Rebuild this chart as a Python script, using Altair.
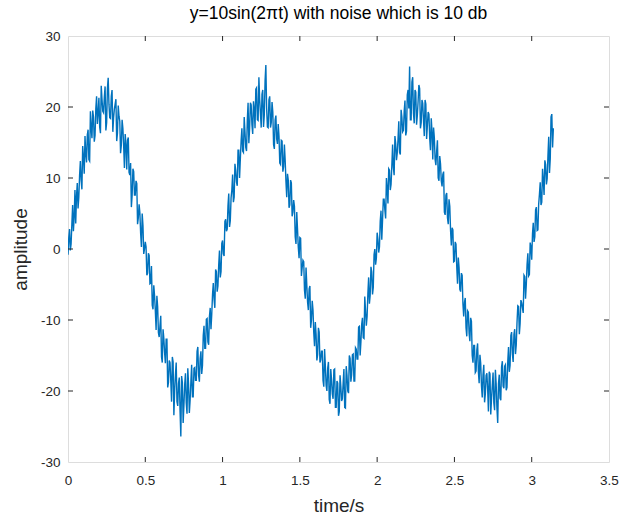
import altair as alt
import pandas as pd

# sampling step of the recorded signal (seconds)
t_step = 0.005

# samples at t = 0.00, 0.01, 0.02, ...
amp_a = [
    -0.8, 2.8, 0.7, 6.2, 4.5, 3.6, 9.3, 7.3, 12.4, 8.4,
    12.9, 15.9, 12.2, 16.8, 12.4, 17.1, 19.5, 15.1, 19.8, 17.6,
    21.3, 16.3, 21.1, 19.2, 22.9, 17.8, 24.1, 18.5, 21.5, 16.5,
    19.7, 21.1, 16.3, 18.7, 13.5, 18.2, 14.6, 16.2, 11.2, 15.7,
    10.4, 5.9, 11.3, 7.6, 9.6, 3.5, 6.3, 2.2, 5.0, -0.7,
    1.0, -3.7, -0.6, -4.9, -2.4, -8.5, -6.6, -11.4, -8.1, -12.4,
    -9.4, -16.0, -12.6, -16.1, -12.7, -18.8, -16.0, -21.5, -15.9, -20.0,
    -16.0, -22.1, -18.1, -26.4, -18.8, -22.0, -17.5, -23.2, -19.1, -21.3,
    -16.3, -20.8, -16.7, -18.5, -13.8, -18.7, -14.4, -16.4, -10.8, -14.0,
    -9.8, -13.5, -8.3, -9.2, -4.8, -8.3, -3.2, -5.2, -0.2, -3.2,
    1.2, -1.0, 4.2, 2.8, 7.8, 4.0, 8.3, 6.6, 12.0, 9.4,
    13.9, 10.0, 15.2, 13.8, 18.6, 14.3, 18.1, 14.9, 20.6, 17.5,
    20.8, 17.0, 22.7, 18.1, 21.1, 17.1, 22.4, 18.9, 25.9, 17.2,
    21.0, 17.1, 20.7, 14.7, 18.2, 15.5, 17.6, 12.1, 15.3, 10.9,
    14.7, 9.5, 10.6, 5.8, 9.7, 4.6, 6.9, 1.7, 5.2, 0.2,
    1.6, -3.8, -1.6, -5.8, -2.6, -7.5, -5.6, -11.1, -7.3, -11.8,
    -10.3, -15.7, -11.1, -16.0, -14.4, -18.5, -14.1, -19.2, -16.8, -21.2,
    -16.9, -20.4, -17.0, -22.3, -18.6, -23.5, -17.8, -21.4, -18.9, -22.3,
    -16.5, -20.0, -15.0, -18.7, -14.9, -18.6, -13.9, -15.5, -11.0, -15.0,
    -10.6, -12.5, -6.7, -10.8, -6.3, -7.7, -2.5, -6.4, -0.8, -2.2,
    2.3, -0.5, 3.9, 1.3, 7.0, 5.5, 10.0, 6.4, 11.1, 9.1,
    14.7, 10.4, 14.9, 13.5, 18.0, 13.3, 18.6, 16.7, 20.9, 16.6,
    22.4, 25.7, 18.2, 24.2, 17.7, 22.1, 18.8, 23.1, 17.0, 21.0,
    18.1, 21.0, 15.5, 19.3, 15.6, 18.4, 12.6, 15.7, 11.8, 15.3,
    9.6, 12.0, 8.8, 10.9, 4.8, 7.9, 3.5, 6.0, 0.5, 2.7,
    -1.7, 0.7, -4.9, -2.6, -6.0, -3.7, -9.5, -6.9, -12.3, -8.9,
    -13.0, -10.2, -16.0, -13.6, -17.2, -13.3, -18.9, -16.1, -20.9, -16.3,
    -20.4, -17.5, -22.9, -17.6, -21.1, -17.4, -22.7, -19.0, -24.5, -17.7,
    -21.3, -15.8, -19.6, -16.3, -19.5, -13.8, -16.4, -11.7, -15.9, -11.3,
    -13.5, -8.0, -12.0, -7.2, -8.3, -3.7, -7.0, -2.2, -3.8, 0.9,
    -1.5, 3.7, 1.7, 5.9, 2.7, 7.7, 6.2, 11.3, 7.6, 11.9,
    9.9, 15.8, 12.7, 19.0, 17.0,
]

# samples at t = 0.005, 0.015, 0.025, ...
amp_b = [
    1.6, -0.2, 3.5, 2.5, 8.3, 7.4, 5.7, 10.4, 9.7, 14.5,
    10.6, 13.4, 16.1, 12.6, 19.4, 15.6, 18.6, 16.0, 21.5, 19.1,
    17.2, 23.0, 19.4, 21.4, 16.7, 22.6, 20.4, 18.4, 22.4, 18.5,
    20.4, 15.2, 20.2, 18.0, 14.6, 17.0, 11.4, 14.7, 15.3, 10.8,
    12.1, 7.6, 10.9, 7.6, 9.2, 4.4, 5.1, 0.3, 3.3, 0.0,
    0.3, -3.4, -0.9, -4.8, -7.9, -5.1, -8.7, -6.6, -11.8, -10.8,
    -15.2, -11.3, -14.6, -12.7, -19.5, -15.7, -18.6, -15.2, -23.4, -17.7,
    -21.5, -18.9, -22.9, -17.9, -24.5, -19.1, -21.7, -16.8, -23.1, -18.7,
    -20.8, -16.8, -18.5, -14.4, -17.8, -15.4, -17.6, -12.2, -14.0, -9.9,
    -13.1, -9.5, -11.3, -6.4, -7.1, -2.9, -6.0, -2.3, -4.0, 0.8,
    -0.7, 3.9, 2.5, 6.1, 3.1, 7.2, 10.5, 7.3, 11.1, 8.9,
    13.9, 12.7, 17.0, 13.6, 16.5, 13.8, 20.6, 17.0, 20.3, 16.2,
    19.7, 22.5, 18.2, 24.2, 19.1, 21.8, 17.2, 23.7, 19.9, 17.1,
    21.5, 17.8, 19.3, 14.1, 18.8, 14.8, 15.9, 11.9, 15.2, 11.6,
    12.5, 7.3, 9.7, 6.2, 9.3, 5.2, 6.0, 0.7, 2.7, -1.3,
    1.5, -2.6, -1.8, -7.0, -5.1, -8.6, -5.2, -10.0, -8.6, -13.7,
    -12.0, -14.9, -11.7, -15.6, -14.4, -19.4, -16.5, -20.0, -15.9, -21.8,
    -18.4, -21.1, -16.9, -22.3, -18.9, -22.9, -19.3, -21.1, -16.9, -22.4,
    -17.8, -20.3, -15.4, -17.7, -14.8, -18.6, -14.1, -15.5, -10.9, -13.1,
    -9.7, -12.6, -8.7, -9.5, -4.0, -6.5, -3.2, -5.4, 0.0, -1.3,
    1.4, 0.3, 5.4, 4.1, 7.0, 4.3, 8.5, 11.3, 8.3, 11.7,
    11.5, 15.9, 12.5, 15.4, 13.6, 19.6, 16.5, 19.4, 16.0, 21.7,
    19.8, 18.2, 23.5, 19.1, 22.4, 17.5, 20.8, 22.6, 17.8, 20.5,
    15.9, 20.4, 17.4, 19.0, 13.9, 16.5, 17.1, 12.6, 13.8, 10.0,
    13.1, 9.6, 10.5, 5.2, 7.6, 4.4, 7.0, 2.6, 3.0, -1.8,
    1.0, -2.5, -1.2, -5.7, -3.4, -7.7, -7.5, -11.1, -8.7, -11.9,
    -9.7, -15.0, -13.6, -17.4, -14.2, -17.3, -14.9, -19.3, -17.7, -21.6,
    -17.8, -19.8, -17.3, -23.3, -19.2, -21.7, -17.0, -22.4, -19.0, -21.0,
    -16.6, -19.3, -16.5, -19.9, -15.9, -17.3, -12.2, -14.8, -12.0, -14.8,
    -10.3, -8.1, -10.5, -7.6, -9.0, -3.9, -5.0, -0.6, -3.6, 0.3,
    2.1, 1.0, 5.5, 2.6, 6.3, 9.4, 6.6, 9.6, 12.5, 9.1,
    13.1, 10.7, 18.6, 14.3,
]

amplitude = []
for i, v in enumerate(amp_a):
    amplitude.append(v)
    if i < len(amp_b):
        amplitude.append(amp_b[i])
time = [round(i * t_step, 3) for i in range(len(amplitude))]

x_ticks = [0, 0.5, 1, 1.5, 2, 2.5, 3, 3.5]
y_ticks = [-30, -20, -10, 0, 10, 20, 30]

W, H = 541, 426
INK = "#262626"
FONT = "Liberation Sans"

df = pd.DataFrame({"t": time, "y": amplitude})
xt = pd.DataFrame({"t": x_ticks[1:-1]})
yt = pd.DataFrame({"v": y_ticks[1:-1]})

xscale = alt.Scale(domain=[0, 3.5], nice=False, zero=False)
yscale = alt.Scale(domain=[-30, 30], nice=False, zero=False)

line = alt.Chart(df).mark_line(color="#0072BD", strokeWidth=1.4, clip=True).encode(
    x=alt.X("t:Q", scale=xscale,
            axis=alt.Axis(values=x_ticks, title="time/s", grid=False, domain=False,
                          tickSize=0, labelPadding=11, labelFontSize=13.5,
                          labelExpr="'' + datum.value",
                          labelColor=INK, labelFont=FONT, titleFont=FONT,
                          titleFontSize=19, titleFontWeight="normal", titleColor=INK,
                          titlePadding=10, labelFlush=False)),
    y=alt.Y("y:Q", scale=yscale,
            axis=alt.Axis(values=y_ticks, title="amplitude", grid=False, domain=False,
                          tickSize=0, labelPadding=8, labelFontSize=13.5,
                          labelExpr="'' + datum.value",
                          labelColor=INK, labelFont=FONT, titleFont=FONT,
                          titleFontSize=19, titleFontWeight="normal", titleColor=INK,
                          titlePadding=10, labelFlush=False)),
)

tick_bottom = alt.Chart(xt).mark_rule(color=INK, strokeWidth=1).encode(
    x=alt.X("t:Q", scale=xscale), y=alt.value(H), y2=alt.value(H - 5))
tick_top = alt.Chart(xt).mark_rule(color=INK, strokeWidth=1).encode(
    x=alt.X("t:Q", scale=xscale), y=alt.value(0), y2=alt.value(5))
tick_left = alt.Chart(yt).mark_rule(color=INK, strokeWidth=1).encode(
    y=alt.Y("v:Q", scale=yscale), x=alt.value(0), x2=alt.value(5))
tick_right = alt.Chart(yt).mark_rule(color=INK, strokeWidth=1).encode(
    y=alt.Y("v:Q", scale=yscale), x=alt.value(W), x2=alt.value(W - 5))

chart = alt.layer(line, tick_bottom, tick_top, tick_left, tick_right).properties(
    width=W, height=H,
    title=alt.TitleParams("y=10sin(2πt) with noise which is 10 db", font=FONT,
                          fontSize=17.5, fontWeight="normal", color="#000000",
                          anchor="middle", offset=7),
    autosize=alt.AutoSizeParams(type="none"),
    padding={"left": 68, "top": 36, "right": 12, "bottom": 57},
).configure_view(stroke=INK, strokeWidth=1).configure(background="white")

chart.save("out.html", embed_options={"renderer": "svg", "actions": False})
